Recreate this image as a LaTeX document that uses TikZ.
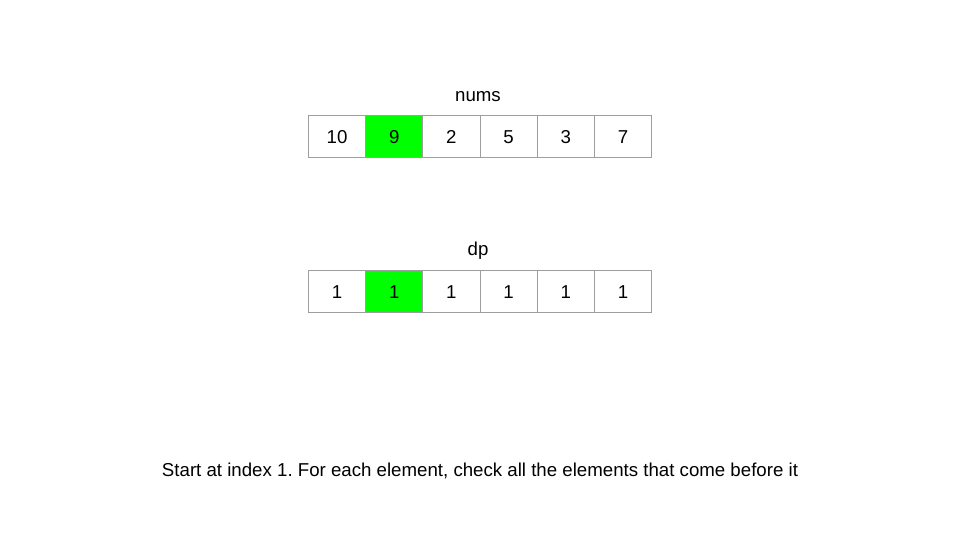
\documentclass[tikz,border=0pt]{standalone}
\usepackage{fontspec}
\setmainfont{Liberation Sans}
\frenchspacing
\definecolor{cellline}{HTML}{9E9E9E}
\definecolor{hl}{HTML}{00FF00}
\begin{document}
\begin{tikzpicture}[x=0.75pt,y=-0.75pt,
  cell/.style={draw=cellline,line width=0.75pt,minimum width=57.17*0.75pt,minimum height=42*0.75pt,inner sep=0pt,text height=10pt,text depth=0pt,anchor=north west,font=\fontsize{14}{16}\selectfont},
  hlcell/.style={cell,fill=hl},
  lbl/.style={font=\fontsize{14}{16}\selectfont,inner sep=0pt}]
\useasboundingbox (0,0) rectangle (960,540);
\node[lbl] (numslbl) at (478,97) {nums};
\foreach \v [count=\i from 0] in {10,9,2,5,3,7}{
  \ifnum\i=1
    \node[hlcell] (n\i) at (308+57.17*\i,115) {\v};
  \else
    \node[cell] (n\i) at (308+57.17*\i,115) {\v};
  \fi
}
\node[lbl] (dplbl) at (478,251) {dp};
\foreach \v [count=\i from 0] in {1,1,1,1,1,1}{
  \ifnum\i=1
    \node[hlcell] (d\i) at (308+57.17*\i,270) {\v};
  \else
    \node[cell] (d\i) at (308+57.17*\i,270) {\v};
  \fi
}
\node[lbl] (caption) at (480,471) {Start at index 1. For each element, check all the elements that come before it};
\end{tikzpicture}
\end{document}
